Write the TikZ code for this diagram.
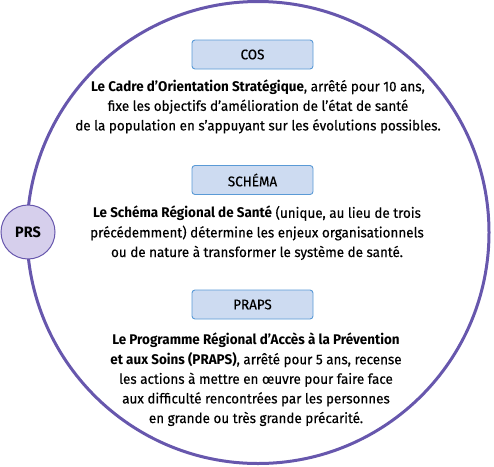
\documentclass[tikz,border=0pt]{standalone}
\usepackage{fontspec}
\setmainfont{Fira Sans}[FakeStretch=0.96,UprightFeatures={FakeBold=0.35}]
\definecolor{ring}{HTML}{6757AD}
\definecolor{prsfill}{HTML}{D6CFEC}
\definecolor{boxfill}{HTML}{CDDBF1}
\definecolor{boxline}{HTML}{5A9AD6}
\begin{document}
\begin{tikzpicture}[x=1pt,y=-1pt,
  titlebox/.style={draw=boxline,fill=boxfill,line width=0.9pt,rounded corners=3pt,minimum width=121pt,minimum height=29pt,inner sep=0pt,font=\fontsize{14}{16}\selectfont},
  bodytext/.style={align=center,inner sep=0pt,font=\fontsize{14}{19.6}\selectfont},
  prsnode/.style={circle,draw=ring,fill=prsfill,line width=1pt,minimum size=54pt,inner sep=0pt,font=\fontsize{15}{17}\selectfont\bfseries}]
\useasboundingbox (0,0) rectangle (494,466);
\node[circle,draw=ring,line width=3pt,minimum size=462pt,inner sep=0pt] (ring) at (258,232.5) {};
\node[prsnode] (prs) at (28,232) {PRS};
\node[titlebox] (cos) at (252.5,54.5) {COS};
\node[bodytext] (costext) at (258,106.5) {\textbf{Le Cadre d’Orientation Stratégique}, arrêté pour 10 ans,\\ fixe les objectifs d’amélioration de l’état de santé\\ de la population en s’appuyant sur les évolutions possibles.};
\node[titlebox] (schema) at (252.5,180) {SCHÉMA};
\node[bodytext] (schematext) at (257,233) {\textbf{Le Schéma Régional de Santé} (unique, au lieu de trois\\ précédemment) détermine les enjeux organisationnels\\ ou de nature à transformer le système de santé.};
\node[titlebox] (praps) at (252.5,304.5) {PRAPS};
\node[bodytext] (prapstext) at (256,379.5) {\textbf{Le Programme Régional d’Accès à la Prévention}\\ \textbf{et aux Soins (PRAPS)}, arrêté pour 5 ans, recense\\ les actions à mettre en œuvre pour faire face\\ aux difficulté rencontrées par les personnes\\ en grande ou très grande précarité.};
\end{tikzpicture}
\end{document}
